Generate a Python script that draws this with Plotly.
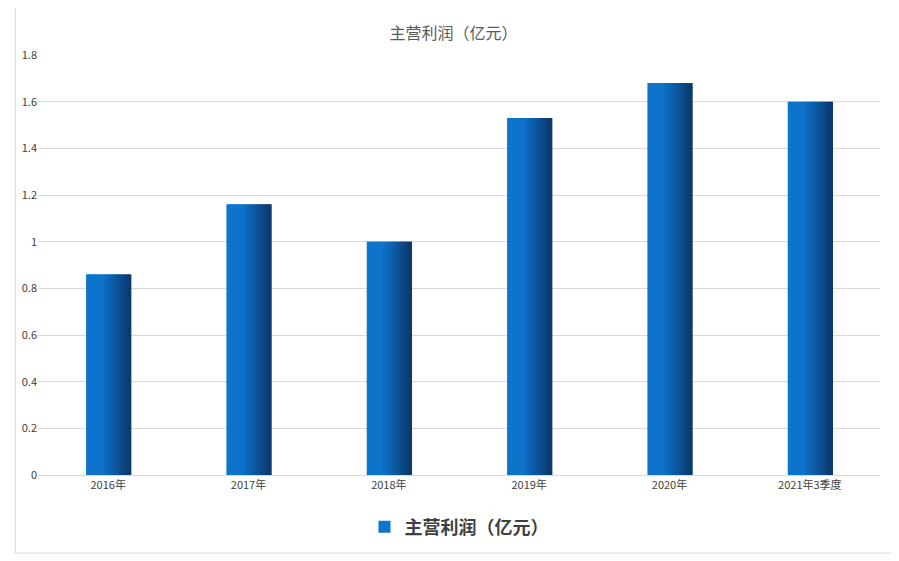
import plotly.graph_objects as go

categories = ["2016年", "2017年", "2018年", "2019年", "2020年", "2021年3季度"]
values = [0.86, 1.16, 1.00, 1.53, 1.68, 1.60]
series_name = "主营利润（亿元）"

fig = go.Figure()
n = 24
total_w = 0.315
sw = total_w / n
def lerp(a, b, t):
    return tuple(int(a[i] + (b[i] - a[i]) * t) for i in range(3))
c0 = (14, 116, 204)
c1 = (10, 58, 110)
for i in range(n):
    t = i / (n - 1)
    t2 = max(0.0, (t - 0.35) / 0.65)
    col = lerp(c0, c1, t2)
    fig.add_trace(go.Bar(
        x=categories, y=values, width=sw * 1.6, offset=-total_w / 2 + i * sw,
        marker=dict(color="rgb(%d,%d,%d)" % col, line=dict(width=0)),
        name=series_name, showlegend=(i == 6), hoverinfo="y"))

fig.update_layout(
    width=891, height=553, barmode="overlay",
    paper_bgcolor="white", plot_bgcolor="white",
    margin=dict(l=30, r=19, t=47, b=86),
    title=dict(text="主营利润（亿元）", x=0.5, xanchor="center", y=0.965,
               font=dict(family="Noto Sans CJK SC", size=16, color="#595959")),
    font=dict(family="Noto Sans CJK SC", size=11, color="#404040"),
    xaxis=dict(showgrid=False, showline=True, linecolor="#d9d9d9", ticks="",
               tickfont=dict(size=11, color="#404040")),
    yaxis=dict(range=[0, 1.8], dtick=0.2, showgrid=True, gridcolor="#d9d9d9",
               zeroline=False, tickfont=dict(size=11, color="#404040"),
               tickformat="~g"),
    legend=dict(orientation="h", x=0.5, xanchor="center", y=-0.08, yanchor="top",
                font=dict(family="Noto Sans CJK SC", size=18, color="#404040",
                          weight="bold")),
    shapes=[dict(type="rect", xref="paper", yref="paper", x0=-0.027, x1=1.015,
                 y0=-0.186, y1=1.13, line=dict(color="#d9d9d9", width=1))],
)
fig.write_html("out.html")
